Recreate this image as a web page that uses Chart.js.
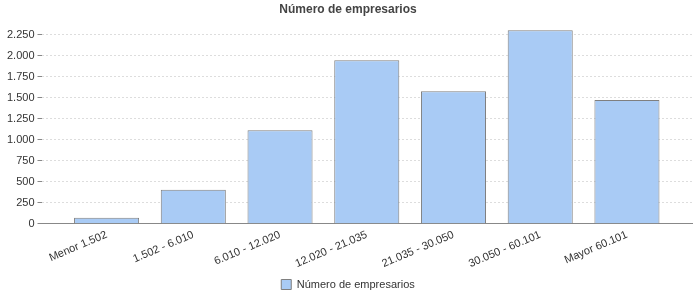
<!DOCTYPE html>
<html lang="es">
<head>
    <meta charset="UTF-8">
    <style>
        body { margin: 0; background: #fff; }
        #wrap { width: 700px; height: 300px; }
    </style>
    <script src="https://cdn.jsdelivr.net/npm/chart.js"></script>
</head>
<body>
<div id="wrap"><canvas id="chart" width="700" height="300"></canvas></div>
<script>
    const categories = ["Menor 1.502", "1.502 - 6.010", "6.010 - 12.020", "12.020 - 21.035",
        "21.035 - 30.050", "30.050 - 60.101", "Mayor 60.101"];
    const empresarios = [70, 405, 1115, 1950, 1580, 2305, 1475];
    const yTicks = [0, 250, 500, 750, 1000, 1250, 1500, 1750, 2000, 2250];

    const fmt = v => v.toLocaleString("de-DE");
    const font = { family: "'Liberation Sans', Arial, sans-serif", size: 11 };

    new Chart(document.getElementById("chart"), {
        type: "bar",
        data: {
            datasets: [{
                label: "Número de empresarios",
                data: empresarios.map((v, i) => ({ x: i, y: v })),
                backgroundColor: "#a9cbf5",
                borderColor: "#7f7f7f",
                borderWidth: 1,
                barPercentage: 0.75,
                categoryPercentage: 1
            }]
        },
        options: {
            responsive: false,
            animation: false,
            layout: { padding: { left: 4, right: 8, top: 0, bottom: 0 } },
            plugins: {
                title: {
                    display: true,
                    text: "Número de empresarios",
                    color: "#444",
                    font: { family: font.family, size: 12, weight: "bold" },
                    padding: { top: 2, bottom: 6 }
                },
                legend: {
                    position: "bottom",
                    labels: {
                        color: "#333",
                        font: font,
                        boxWidth: 10,
                        boxHeight: 10,
                        padding: 4
                    }
                },
                tooltip: { enabled: false }
            },
            scales: {
                x: {
                    type: "linear",
                    offset: false,
                    min: -0.75,
                    max: 6.75,
                    afterBuildTicks: s => { s.ticks = categories.map((_, i) => ({ value: i })); },
                    grid: { display: false, drawTicks: false },
                    border: { display: true, color: "#888" },
                    ticks: {
                        color: "#333",
                        font: font,
                        minRotation: 23,
                        maxRotation: 23,
                        padding: 4.5,
                        callback: v => categories[v]
                    }
                },
                y: {
                    min: 0,
                    max: 2400,
                    afterBuildTicks: s => { s.ticks = yTicks.map(v => ({ value: v })); },
                    grid: {
                        color: "#dddddd",
                        tickColor: "#888",
                        tickLength: 4
                    },
                    border: { display: false, dash: [2, 2] },
                    ticks: {
                        color: "#333",
                        font: font,
                        padding: 3,
                        callback: v => fmt(v)
                    }
                }
            }
        }
    });
</script>
</body>
</html>
